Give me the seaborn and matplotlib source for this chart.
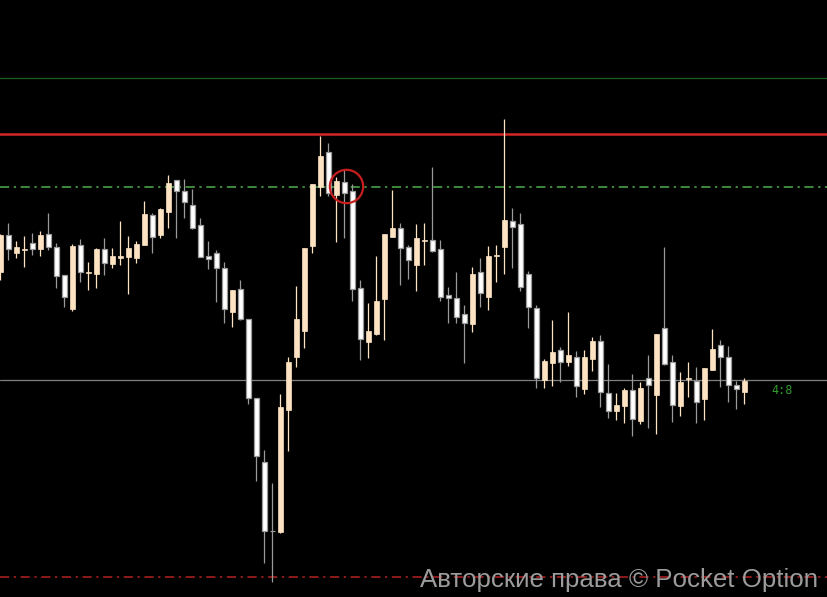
import numpy as np
import matplotlib
matplotlib.use("Agg")
import matplotlib.pyplot as plt
import pandas as pd
import seaborn as sns

# candle prices (arbitrary price units), one row per candle
opens = [328, 365, 347.3, 350, 357, 351, 366, 352.7, 324.7, 291, 354.7, 326.7, 326, 350.7, 336, 342,
         343.3, 342.3, 355.3, 385, 365, 388.3, 419.7, 408.7, 394.7, 374.7, 343.7, 346.7, 331.7, 288.3,
         311, 280.7, 201.7, 137.7, 69, 67.7, 190, 243.3, 269, 354.3, 413.3, 447.7, 405.3, 417.7, 409,
         311.7, 258.3, 265.7, 300.7, 363.3, 371.7, 353, 334.7, 359.3, 359.7, 351, 304.7, 301.7, 285.7,
         275.7, 327.7, 303.3, 344, 353.3, 379, 375.7, 326, 291.7, 220, 236.7, 250, 238.3, 242.7, 211.3,
         240.7, 259, 206.7, 189.3, 194.3, 210, 179, 221.7, 205.3, 271.7, 237.7, 194.3, 220.7, 219,
         201.3, 230.3, 255, 242.7, 214.7, 208.3]
highs = [366, 376.7, 359, 364, 367, 369, 386.7, 357, 325, 355.7, 360.7, 338.3, 351.7, 362.3, 352.3, 379,
         364, 358.7, 399, 387.3, 391.7, 425, 420, 421, 411, 381.7, 359, 350, 337.7, 310,
         320, 281, 202, 150, 116.7, 206, 242.7, 314, 352, 416.5, 464, 456.7, 423.3, 430.7, 415.7,
         320, 296.7, 344, 366.5, 410, 376.7, 355, 376, 376.7, 433.3, 360, 313.3, 328.3, 295,
         332.7, 341.7, 354, 355, 480.7, 391.7, 386.7, 329, 295, 240.7, 280, 252.7, 288.3, 249.3, 250,
         263.3, 265, 236, 206.7, 212.3, 226, 217.7, 245, 266.5, 352.7, 245, 228, 238.3, 233.3,
         232.5, 271, 260, 254, 219.3, 222.3]
lows = [320, 340, 342.3, 333.3, 345.3, 344.3, 350, 311.7, 293.3, 289.3, 318.3, 310, 312.3, 325, 332.3, 335,
        306, 337.3, 355, 347.3, 362.3, 372.3, 362.3, 382.3, 371.5, 342.7, 331.3, 298.3, 276.7, 273.3,
        280.5, 195.7, 119.3, 36.7, 18.3, 66.7, 149.3, 233.3, 251.7, 346.7, 404.3, 404.3, 358.3, 361.7, 299.3,
        240, 241.7, 265.5, 260, 363, 315, 321, 309.3, 335, 348.5, 299.3, 276.7, 276.7, 236.7,
        268.3, 293.3, 290, 318.3, 325.7, 332.3, 309.3, 271.7, 212.3, 211.7, 214, 218.3, 234, 202.7, 205.7,
        229, 193.3, 181.7, 180, 176.7, 164.3, 175.7, 171.7, 165.7, 235.5, 178.3, 184.3, 203.3, 176.7,
        180, 230, 213.3, 198.3, 190.7, 195.7]
closes = [365, 350.7, 353, 351, 351.3, 365.3, 353.3, 324.3, 303.3, 354.3, 327.7, 328, 351, 336.7, 344, 344,
          351.7, 356, 386, 362.7, 391, 417, 408.7, 397.7, 371.7, 343.3, 340.7, 331.7, 290.7, 309.7,
          280.7, 201.7, 144.3, 69, 69, 193, 238.3, 281, 351.7, 416, 444, 406.7, 419, 406.7, 310.7,
          260.7, 269, 299, 366, 372, 351.7, 339.7, 362, 360.3, 349, 302.7, 302, 282.7, 276.7,
          326, 306.7, 344, 345, 380, 372.7, 313.3, 292.7, 222.3, 239.3, 247.7, 237.7, 245, 214.3, 242.7,
          259, 208.3, 189.3, 195, 210, 180.7, 212.3, 214.7, 266, 235.7, 195, 218, 222.3, 198.3,
          232.3, 251, 242.7, 214.7, 210.7, 219.3]

# horizontal levels
level_top_green = 522
level_resistance = 466
level_dashdot_green = 413
level_current = 220
level_dashdot_red = 23
timer_label = "4:8"
watermark = "Авторские права © Pocket Option"
marked_candle = 43.25
marked_price = 414

df = pd.DataFrame({"open": opens, "high": highs, "low": lows, "close": closes})
df["x"] = np.arange(len(df))
df["up"] = df["close"] > df["open"]

sns.set_style("dark", {"axes.facecolor": "black", "figure.facecolor": "black"})

fig = plt.figure(figsize=(8.28, 5.97), dpi=100)
ax = fig.add_axes([0, 0, 1, 1])
ax.set_facecolor("black")

peach = "#fde3c2"
white_edge = "#9a9a9a"

up = df[df["up"]]
down = df[~df["up"]]

# wicks
ax.vlines(up["x"], up["low"], up["high"], color=peach, lw=0.9, zorder=2)
ax.vlines(down["x"], down["low"], down["high"], color=white_edge, lw=0.9, zorder=2)

# bodies
ax.bar(up["x"], up["close"] - up["open"], bottom=up["open"], width=0.62,
       color=peach, edgecolor=peach, linewidth=0.5, zorder=3)
ax.bar(down["x"], down["open"] - down["close"], bottom=down["close"], width=0.62,
       color="white", edgecolor=white_edge, linewidth=0.9, zorder=3)

# levels
ax.axhline(level_top_green, color="#1f5f1f", lw=0.9, zorder=1)
ax.axhline(level_resistance, color="#d42626", lw=1.8, zorder=1)
ax.axhline(level_dashdot_green, color="#4fae4f", lw=1.1, ls=(0, (6, 3, 1.5, 3)), zorder=1)
ax.axhline(level_current, color="#808080", lw=0.9, zorder=1)
ax.axhline(level_dashdot_red, color="#b52222", lw=1.1, ls=(0, (6, 3, 1.5, 3)), zorder=1)

# circle around the marked candles
ax.plot([marked_candle], [marked_price], marker="o", ms=24, mfc="none",
        mec="#c81e1e", mew=1.6, zorder=4)

ax.text(97.7, level_current - 10, timer_label, color="#2f9a2f", fontsize=8.5,
        family="DejaVu Sans Mono", ha="center", va="center")

ax.set_xlim(-0.05, 103.45)
ax.set_ylim(3, 600)
ax.set_xticks([])
ax.set_yticks([])
for s in ax.spines.values():
    s.set_visible(False)

fig.text(0.988, 0.008, watermark, color="#9c9c9c", fontsize=18.6,
         family=["Liberation Sans", "DejaVu Sans"], ha="right", va="bottom")

fig.savefig("out.png", dpi=100, facecolor="black")
